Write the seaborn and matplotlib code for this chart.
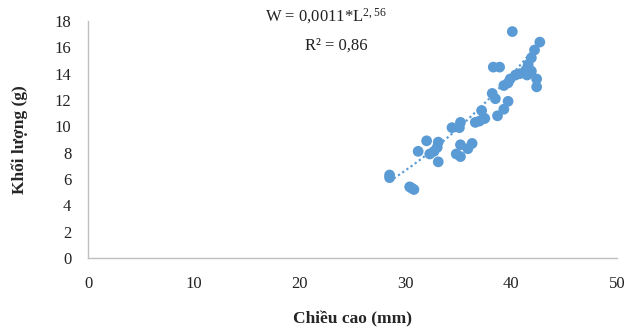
import numpy as np
import pandas as pd
import matplotlib
matplotlib.use("Agg")
import matplotlib.pyplot as plt
import seaborn as sns

# Data
length_mm = [28.5, 28.5, 30.4, 30.6, 30.8, 31.2, 32.0, 32.3, 32.7, 33.1,
             33.0, 33.1, 34.4, 35.2, 35.1, 34.8, 35.2, 35.2, 35.9, 36.3,
             36.6, 37.4, 37.2, 38.7, 39.3, 39.7, 38.2, 38.5, 38.3, 38.9,
             40.1, 42.7, 42.2, 41.9, 41.6, 41.4, 40.8, 40.4, 39.9, 39.7,
             42.4, 42.4, 41.5, 41.9, 37.5, 37.0, 39.3]
weight_g = [6.3, 6.1, 5.4, 5.3, 5.2, 8.1, 8.9, 7.9, 8.1, 8.8,
            8.4, 7.3, 9.9, 10.3, 9.9, 7.9, 7.7, 8.6, 8.3, 8.7,
            10.3, 10.6, 11.2, 10.8, 11.3, 11.9, 12.5, 12.1, 14.5, 14.5,
            17.2, 16.4, 15.8, 15.2, 14.7, 14.3, 14.0, 13.9, 13.6, 13.3,
            13.6, 13.0, 13.9, 14.2, 10.6, 10.4, 13.1]

# Power trendline coefficients shown on the chart
coef_a = 0.0011
coef_b = 2.56

df = pd.DataFrame({"L": length_mm, "W": weight_g})

sns.set_style("white")
plt.rcParams["font.family"] = ["Liberation Serif", "DejaVu Serif"]
plt.rcParams["mathtext.fontset"] = "custom"
plt.rcParams["mathtext.rm"] = "Liberation Serif"
plt.rcParams["mathtext.it"] = "Liberation Serif"

fig = plt.figure(figsize=(6.29, 3.29), dpi=100)
ax = fig.add_axes([0.14, 0.216, 0.841, 0.72])

blue = "#5B9BD5"
sns.scatterplot(data=df, x="L", y="W", ax=ax, color=blue, s=60,
                edgecolor="none", zorder=3)

# trendline
xs = np.linspace(min(length_mm), max(length_mm), 100)
ax.plot(xs, coef_a * xs ** coef_b, linestyle=(0, (1, 1.3)), color=blue,
        linewidth=1.6, zorder=2)

ax.set_xlim(0, 50)
ax.set_ylim(0, 18)
ax.set_xticks(range(0, 51, 10))
ax.set_yticks(range(0, 19, 2))
ax.tick_params(axis="both", length=0, labelsize=12, colors="#222222")
ax.tick_params(axis="x", pad=13)
ax.tick_params(axis="y", pad=12)

for side in ["top", "right"]:
    ax.spines[side].set_visible(False)
for side in ["left", "bottom"]:
    ax.spines[side].set_color("#BFBFBF")
    ax.spines[side].set_linewidth(1)

ax.set_xlabel("Chiều cao (mm)", fontsize=12.5, fontweight="bold", labelpad=14)
ax.set_ylabel("Khối lượng (g)", fontsize=12.5, fontweight="bold", labelpad=19)

fig.text(0.518, 0.952, r"W = 0,0011*L$^{\mathrm{2,56}}$", ha="center",
         va="center", fontsize=12, color="#222222")
fig.text(0.535, 0.862, "R² = 0,86", ha="center", va="center",
         fontsize=12, color="#222222")

fig.savefig("out.png", dpi=100)
